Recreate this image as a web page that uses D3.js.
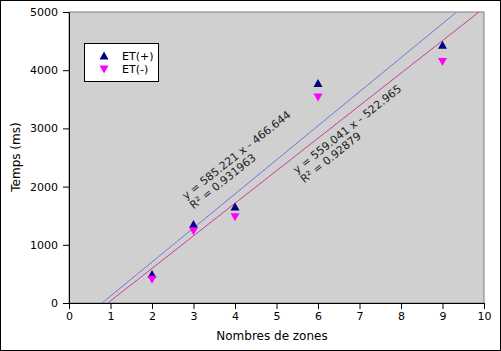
<!DOCTYPE html>
<html>
<head>
<meta charset="utf-8">
<script src="https://cdn.jsdelivr.net/npm/d3@7"></script>
<style>
  html, body { margin: 0; padding: 0; background: #fff; }
  svg { display: block; font-family: "DejaVu Sans", sans-serif; }
</style>
</head>
<body>
<div id="chart"></div>
<script>
// data
const zones = [2, 3, 4, 6, 9];
const etPlus = [490, 1350, 1650, 3770, 4430];
const etMinus = [410, 1240, 1480, 3540, 4150];
const xTicks = [0, 1, 2, 3, 4, 5, 6, 7, 8, 9, 10];
const yTicks = [0, 1000, 2000, 3000, 4000, 5000];
const trendNames = ["ET(+)", "ET(-)"];
const trendSlopes = [585.221, 559.041];
const trendIntercepts = [-466.644, -522.965];
const trendLabels = [["y = 585.221 x - 466.644", "R² = 0.931963"],
                     ["y = 559.041 x - 522.965", "R² = 0.92879"]];

const width = 501, height = 351;
const margin = { top: 12, right: 17, bottom: 48, left: 69 };
const innerW = width - margin.left - margin.right;
const innerH = height - margin.top - margin.bottom;

const svg = d3.select("#chart").append("svg")
    .attr("width", width).attr("height", height);

// outer frame
svg.append("rect").attr("x", 0.5).attr("y", 0.5)
    .attr("width", width - 1).attr("height", height - 1)
    .attr("fill", "#fff").attr("stroke", "#000");

const x = d3.scaleLinear().domain([0, 10]).range([0, innerW]);
const y = d3.scaleLinear().domain([0, 5000]).range([innerH, 0]);

const g = svg.append("g").attr("transform", `translate(${margin.left},${margin.top})`);

// plot area
g.append("rect").attr("width", innerW).attr("height", innerH)
    .attr("fill", "#d0d0d0").attr("stroke", "#808080");

g.append("clipPath").attr("id", "clip")
    .append("rect").attr("width", innerW).attr("height", innerH);

// trend lines
const lineColors = ["#7474dc", "#c83c9c"];
trendSlopes.forEach((m, i) => {
    const b = trendIntercepts[i];
    const x0 = (0 - b) / m, x1 = (5000 - b) / m;
    g.append("line")
        .attr("clip-path", "url(#clip)")
        .attr("x1", x(x0)).attr("y1", y(0))
        .attr("x2", x(x1)).attr("y2", y(5000))
        .attr("stroke", lineColors[i]).attr("stroke-width", 1);
});

// equation labels (anchored in data units)
const labelAt = [[2.82, 1770], [5.49, 2216]];
trendLabels.forEach((lines, i) => {
    const t = g.append("text")
        .attr("transform", `translate(${x(labelAt[i][0])},${y(labelAt[i][1])}) rotate(-38.5)`)
        .attr("font-size", "11px").attr("fill", "#222");
    lines.forEach((s, k) => {
        t.append("tspan").attr("x", 0).attr("dy", k === 0 ? 0 : 12).text(s);
    });
});

// markers
const up = "M0,-4.5L4.5,3.5L-4.5,3.5Z";
const down = "M0,4.5L4.5,-3.5L-4.5,-3.5Z";
g.selectAll(".plus").data(zones).enter().append("path")
    .attr("d", up).attr("fill", "#000080")
    .attr("transform", (d, i) => `translate(${x(d)},${y(etPlus[i])})`);
g.selectAll(".minus").data(zones).enter().append("path")
    .attr("d", down).attr("fill", "#ff00ff")
    .attr("transform", (d, i) => `translate(${x(d)},${y(etMinus[i])})`);

// axes
const xAxis = g.append("g").attr("transform", `translate(0,${innerH})`)
    .call(d3.axisBottom(x).tickValues(xTicks).tickSize(6).tickSizeOuter(0).tickFormat(d3.format("d")));
const yAxis = g.append("g")
    .call(d3.axisLeft(y).tickValues(yTicks).tickSize(6).tickSizeOuter(0).tickFormat(d3.format("d")));
[xAxis, yAxis].forEach(a => {
    a.selectAll("text").attr("font-size", "11px").attr("font-family", "DejaVu Sans").attr("fill", "#000");
    a.select(".domain").attr("stroke", "#000");
});
yAxis.selectAll("text").attr("x", -11);
xAxis.selectAll("text").attr("y", 9);

// axis titles
svg.append("text").attr("x", 272).attr("y", 340)
    .attr("text-anchor", "middle").attr("font-size", "12px").text("Nombres de zones");
svg.append("text").attr("transform", `translate(20,157) rotate(-90)`)
    .attr("text-anchor", "middle").attr("font-size", "12px").text("Temps (ms)");

// legend
const lg = svg.append("g").attr("transform", "translate(84.5,43.5)");
lg.append("rect").attr("width", 74).attr("height", 38).attr("fill", "#fff").attr("stroke", "#000");
[up, down].forEach((p, i) => {
    lg.append("path").attr("d", p).attr("fill", i === 0 ? "#000080" : "#ff00ff")
        .attr("transform", `translate(19.5,${12.5 + i * 13})`);
    lg.append("text").attr("x", 37.5).attr("y", 16.5 + i * 13)
        .attr("font-size", "11px").text(trendNames[i]);
});
</script>
</body>
</html>
